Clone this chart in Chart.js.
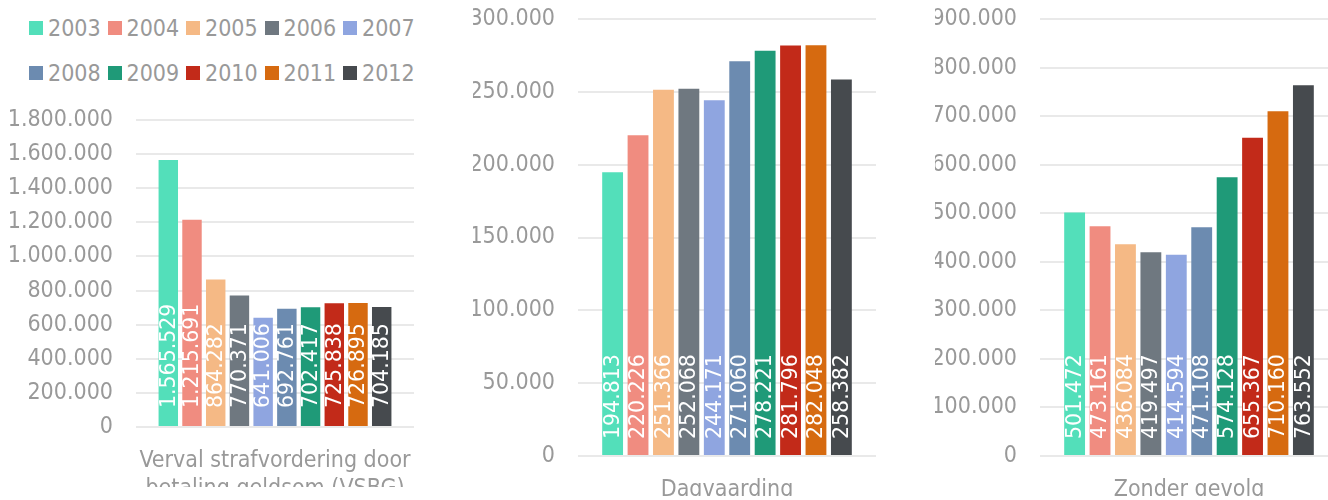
<!DOCTYPE html>
<html>
<head>
<meta charset="utf-8">
<script src="https://cdn.jsdelivr.net/npm/chart.js@4.4.1/dist/chart.umd.min.js"></script>
<style>
  html, body { margin: 0; padding: 0; background: #fff; }
  body { width: 1328px; height: 500px; overflow: hidden; position: relative; }
  canvas { position: absolute; top: 0; }
  #legend { position: absolute; left: 29px; top: 0; width: 400px; height: 100px; }
  .item { position: absolute; height: 28px; line-height: 28px; font-family: "DejaVu Sans Condensed", "DejaVu Sans", sans-serif; font-size: 23px; color: #999; white-space: nowrap; }
  .item .box { position: absolute; left: 0; top: 7px; width: 14px; height: 14px; }
  .item .txt { position: absolute; left: 19px; top: 0; }
</style>
</head>
<body>
<div id="legend"></div>
<canvas id="c1" width="440" height="520" style="left:0px"></canvas>
<canvas id="c2" width="440" height="520" style="left:450px"></canvas>
<canvas id="c3" width="440" height="520" style="left:910px"></canvas>
<script>
const years = ['2003', '2004', '2005', '2006', '2007', '2008', '2009', '2010', '2011', '2012'];
const colors = ['#53DFBA', '#F08C80', '#F5B985', '#6F7880', '#8FA5E0', '#6C8BB0', '#1F9A78', '#C22A19', '#D66A10', '#464A4E'];

const vsbg = [1565529, 1215691, 864282, 770371, 641006, 692761, 702417, 725838, 726895, 704185];
const dagvaarding = [194813, 220226, 251366, 252068, 244171, 271060, 278221, 281796, 282048, 258382];
const zonderGevolg = [501472, 473161, 436084, 419497, 414594, 471108, 574128, 655367, 710160, 763552];

const vsbgTicks = { max: 1800000, step: 200000 };
const dagTicks = { max: 300000, step: 50000 };
const zonderTicks = { max: 900000, step: 100000 };

const grey = '#999999';
const axisFont = '"DejaVu Sans Condensed", "DejaVu Sans", sans-serif';
const labelFont = '"DejaVu Sans", sans-serif';

function fmt(n) {
  return String(Math.round(n)).replace(/\B(?=(\d{3})+(?!\d))/g, '.');
}

// legend, two rows of five
const legend = document.getElementById('legend');
years.forEach((y, i) => {
  const row = Math.floor(i / 5), col = i % 5;
  const it = document.createElement('div');
  it.className = 'item';
  it.style.left = (col * 78.5) + 'px';
  it.style.top = (14 + row * 45) + 'px';
  it.innerHTML = '<span class="box" style="background:' + colors[i] + '"></span><span class="txt">' + y + '</span>';
  legend.appendChild(it);
});

// white vertical value labels at the foot of each bar
const barLabels = {
  id: 'barLabels',
  afterDatasetsDraw(chart, args, opts) {
    const ctx = chart.ctx;
    ctx.save();
    ctx.fillStyle = '#fff';
    ctx.font = '20.5px ' + labelFont;
    ctx.textAlign = 'left';
    ctx.textBaseline = 'middle';
    chart.data.datasets.forEach((ds, di) => {
      chart.getDatasetMeta(di).data.forEach((bar, i) => {
        ctx.save();
        ctx.translate(bar.x, bar.base - opts.offset);
        ctx.rotate(-Math.PI / 2);
        ctx.fillText(fmt(ds.data[i]), 0, 1);
        ctx.restore();
      });
    });
    ctx.restore();
  }
};

function makeChart(id, label, values, ticks, pad, yWidth, xHeight, offset) {
  return new Chart(document.getElementById(id), {
    type: 'bar',
    data: {
      labels: [label],
      datasets: years.map((y, i) => ({
        label: y,
        data: [values[i]],
        backgroundColor: colors[i],
        barPercentage: 0.82,
        categoryPercentage: 0.853
      }))
    },
    plugins: [barLabels],
    options: {
      responsive: false,
      animation: false,
      layout: { padding: pad },
      plugins: {
        legend: { display: false },
        tooltip: { enabled: false },
        barLabels: { offset: offset }
      },
      scales: {
        x: {
          grid: { display: false, drawTicks: false },
          border: { display: false },
          ticks: { color: grey, font: { family: axisFont, size: 23, lineHeight: 1.22 }, padding: 20 },
          afterFit(scale) {
            scale.height = xHeight;
            scale.paddingLeft = 0;
            scale.paddingRight = 0;
          }
        },
        y: {
          min: 0,
          max: ticks.max,
          grid: { color: '#e9e9e9', lineWidth: 2, drawTicks: false },
          border: { display: false },
          ticks: {
            stepSize: ticks.step,
            color: grey,
            padding: 23,
            font: { family: axisFont, size: 23 },
            callback: v => fmt(v)
          },
          afterFit(scale) {
            scale.width = yWidth;
            scale.paddingTop = 0;
            scale.paddingBottom = 0;
          }
        }
      }
    }
  });
}

// chart areas: 136-414 / 578-876 / 1040-1338 wide, tops 120 / 19 / 19, bottoms 427 / 456 / 456
makeChart('c1', ['Verval strafvordering door', 'betaling geldsom (VSBG)'], vsbg, vsbgTicks,
  { left: 8, right: 26, top: 120, bottom: 33 }, 128, 60, 18);
makeChart('c2', 'Dagvaarding', dagvaarding, dagTicks,
  { left: 23, right: 14, top: 19, bottom: 24 }, 105, 40, 16);
makeChart('c3', 'Zonder gevolg', zonderGevolg, zonderTicks,
  { left: 25, right: 12, top: 19, bottom: 24 }, 105, 40, 16);
</script>
</body>
</html>
